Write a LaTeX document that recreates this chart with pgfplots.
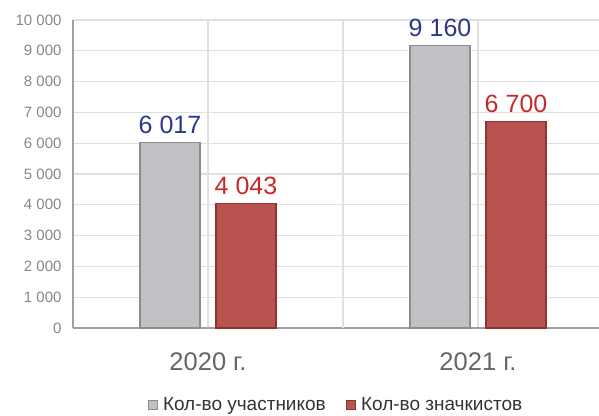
\documentclass[border=0pt]{standalone}
\usepackage{pgfplots}
\pgfplotsset{compat=1.18}
\usepackage{fontspec}
\setmainfont{Liberation Sans}

\definecolor{gridc}{RGB}{224,224,224}
\definecolor{axisc}{RGB}{160,160,160}
\definecolor{tickc}{RGB}{135,135,135}
\definecolor{catc}{RGB}{102,102,102}
\definecolor{barg}{RGB}{192,193,197}
\definecolor{bargd}{RGB}{140,140,142}
\definecolor{barr}{RGB}{184,83,80}
\definecolor{barrd}{RGB}{140,52,50}
\definecolor{lblb}{RGB}{45,55,140}
\definecolor{lblr}{RGB}{200,40,40}

\begin{document}
\begin{tikzpicture}
% frame of the 599x416 picture, axis box at (0,0)-(526,308)
\path[use as bounding box] (-73bp,-88bp) rectangle (526bp,328bp);
\begin{axis}[
    at={(0,0)}, anchor=south west,
    scale only axis,
    width=526bp, height=308bp,
    ybar, bar width=60bp,
    xmin=-0.5, xmax=1.448,
    ymin=0, ymax=10000,
    scaled y ticks=false,
    axis x line*=bottom, axis y line*=left,
    axis line style={axisc, line width=1.5bp, -},
    xtick={0,1},
    xticklabels={2020 г., 2021 г.},
    extra x ticks={0.5},
    extra x tick labels={},
    extra tick style={grid=major},
    ytick={0,1000,...,10000},
    major tick length=0pt,
    xmajorgrids, ymajorgrids,
    grid style={gridc, line width=1.2bp},
    /pgf/number format/.cd, 1000 sep={\kern0.28em}, assume math mode=true,
    /pgfplots/.cd,
    yticklabel style={font=\fontsize{15bp}{18bp}\selectfont, text=tickc, xshift=-8bp},
    xticklabel style={font=\fontsize{25.5bp}{30bp}\selectfont, text=catc, yshift=-21bp},
    nodes near coords,
    every node near coord/.append style={font=\fontsize{25bp}{30bp}\selectfont, yshift=5bp},
    legend style={at={(axis description cs:0.5,-0.25)}, anchor=center, draw=none,
        fill=none, font=\fontsize{19bp}{22bp}\selectfont, text=black!80,
        legend columns=2,
        /tikz/every odd column/.append style={column sep=3bp},
        /tikz/every even column/.append style={column sep=18bp}},
    legend image code/.code={\draw[#1, line width=1.2bp] (0bp,-4.5bp) rectangle (9bp,4.5bp);},
]
\addplot[bar shift=-38bp, fill=barg, draw=bargd, line width=1.2bp,
    every node near coord/.append style={text=lblb}]
    coordinates {(0,6017) (1,9160)};
\addplot[bar shift=38bp, fill=barr, draw=barrd, line width=1.2bp,
    every node near coord/.append style={text=lblr}]
    coordinates {(0,4043) (1,6700)};
\legend{Кол-во участников, Кол-во значкистов}
\end{axis}
\end{tikzpicture}
\end{document}
